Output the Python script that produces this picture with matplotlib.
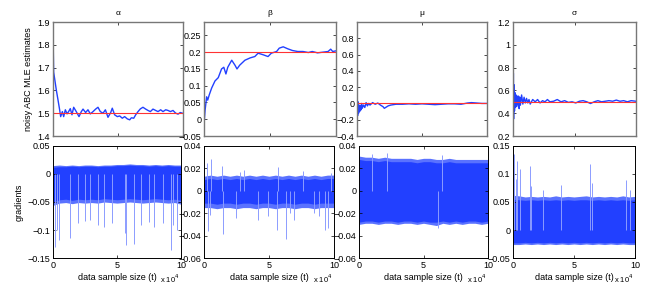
import numpy as np
import matplotlib
matplotlib.use("Agg")
from matplotlib import pyplot as plt

plt.rcParams['font.family'] = ['Liberation Sans', 'DejaVu Sans']
plt.rcParams['font.size'] = 6

# x values are in units of 10^4 samples
alpha_x = [0, 0.05, 0.13, 0.26, 0.38, 0.51, 0.59, 0.72, 0.82, 0.95, 1.08, 1.2, 1.33, 1.46, 1.59, 1.79,
           2.0, 2.18, 2.31, 2.51, 2.69, 2.87, 3.08, 3.28, 3.46, 3.64, 3.85, 4.03, 4.23, 4.44, 4.56,
           4.74, 4.95, 5.13, 5.33, 5.51, 5.72, 5.9, 6.03, 6.21, 6.36, 6.54, 6.72, 6.92, 7.13, 7.31,
           7.49, 7.69, 7.9, 8.08, 8.28, 8.46, 8.67, 8.85, 9.03, 9.23, 9.44, 9.62, 9.79, 10.0]
alpha_y = [1.85, 1.68, 1.65, 1.60, 1.56, 1.515, 1.485, 1.507, 1.485, 1.515, 1.497, 1.507, 1.52, 1.493,
           1.526, 1.507, 1.485, 1.507, 1.518, 1.503, 1.515, 1.497, 1.507, 1.518, 1.526, 1.507, 1.5,
           1.515, 1.482, 1.503, 1.522, 1.493, 1.485, 1.488, 1.478, 1.485, 1.475, 1.471, 1.48, 1.478,
           1.493, 1.507, 1.519, 1.526, 1.518, 1.512, 1.507, 1.518, 1.512, 1.507, 1.515, 1.507, 1.515,
           1.512, 1.507, 1.512, 1.5, 1.496, 1.503, 1.499]

beta_x = [0, 0.08, 0.2, 0.28, 0.4, 0.58, 0.83, 1.08, 1.33, 1.5, 1.66, 1.8, 2.1, 2.35, 2.5, 2.7, 3.1,
          3.5, 3.85, 4.1, 4.5, 4.85, 5.1, 5.5, 5.7, 6.0, 6.35, 6.7, 7.1, 7.5, 7.9, 8.2, 8.6, 9.0,
          9.4, 9.6, 9.75, 10.0]
beta_y = [-0.016, 0.026, 0.067, 0.057, 0.073, 0.093, 0.114, 0.124, 0.15, 0.155, 0.135, 0.155, 0.176,
          0.161, 0.15, 0.161, 0.176, 0.183, 0.187, 0.197, 0.192, 0.187, 0.197, 0.202, 0.212, 0.216,
          0.21, 0.205, 0.202, 0.202, 0.199, 0.202, 0.198, 0.2, 0.202, 0.209, 0.202, 0.204]

mu_x = [0, 0.02, 0.05, 0.08, 0.12, 0.16, 0.2, 0.25, 0.3, 0.35, 0.4, 0.5, 0.6, 0.7, 0.8, 0.9, 1.0,
        1.2, 1.4, 1.6, 1.8, 2.0, 2.1, 2.2, 2.4, 2.6, 2.8, 3.0, 3.5, 4.0, 4.5, 5.0, 5.5, 6.0, 6.5,
        7.0, 7.5, 8.0, 8.5, 8.8, 9.2, 9.6, 10.0]
mu_y = [-0.3, 0.05, -0.15, 0.02, -0.12, -0.02, -0.1, -0.03, -0.08, 0.0, -0.06, -0.02, -0.05, 0.01,
        -0.03, 0.0, -0.02, 0.01, -0.01, 0.005, -0.02, -0.04, -0.06, -0.05, -0.03, -0.02, -0.015,
        -0.01, -0.01, -0.005, -0.01, -0.005, -0.01, -0.015, -0.01, -0.005, -0.005, -0.01, 0.005,
        0.01, 0.005, 0.0, 0.0]

sigma_x = [0, 0.01, 0.03, 0.05, 0.08, 0.12, 0.16, 0.2, 0.25, 0.3, 0.35, 0.4, 0.45, 0.5, 0.55, 0.6,
           0.7, 0.8, 0.9, 1.0, 1.1, 1.2, 1.3, 1.4, 1.6, 1.8, 2.0, 2.2, 2.4, 2.6, 2.8, 3.0, 3.3, 3.6,
           3.9, 4.2, 4.5, 4.8, 5.1, 5.4, 5.7, 6.0, 6.3, 6.6, 6.9, 7.2, 7.5, 7.8, 8.1, 8.4, 8.7, 9.0,
           9.3, 9.6, 10.0]
sigma_y = [1.15, 0.3, 0.75, 0.35, 0.65, 0.42, 0.58, 0.45, 0.56, 0.46, 0.55, 0.48, 0.55, 0.44, 0.54,
           0.47, 0.56, 0.48, 0.54, 0.49, 0.53, 0.49, 0.52, 0.48, 0.52, 0.5, 0.52, 0.49, 0.51, 0.5,
           0.52, 0.5, 0.505, 0.52, 0.5, 0.51, 0.495, 0.5, 0.49, 0.505, 0.51, 0.5, 0.485, 0.5, 0.51,
           0.5, 0.505, 0.51, 0.505, 0.515, 0.505, 0.51, 0.5, 0.51, 0.505]

true_values = [1.5, 0.2, 0.0, 0.5]
names = ['α', 'β', 'μ', 'σ']

# gradient bands: envelope read every 0.5 x 10^4
grad_x = [0, 0.5, 1.0, 1.5, 2.0, 2.5, 3.0, 3.5, 4.0, 4.5, 5.0, 5.5, 6.0, 6.5, 7.0, 7.5, 8.0, 8.5,
          9.0, 9.5, 10.0]
alpha_core_hi = [0.012, 0.013, 0.013, 0.014, 0.013, 0.014, 0.014, 0.013, 0.014, 0.014, 0.015, 0.015,
                 0.016, 0.015, 0.015, 0.014, 0.015, 0.014, 0.015, 0.014, 0.014]
alpha_core_lo = [-0.05, -0.046, -0.045, -0.047, -0.045, -0.046, -0.045, -0.046, -0.044, -0.045,
                 -0.046, -0.045, -0.044, -0.045, -0.046, -0.045, -0.044, -0.045, -0.046, -0.045, -0.047]
alpha_edge_hi = [0.015, 0.016, 0.015, 0.016, 0.015, 0.016, 0.016, 0.015, 0.016, 0.016, 0.017,
                 0.017, 0.018, 0.017, 0.017, 0.016, 0.017, 0.016, 0.017, 0.016, 0.016]
alpha_edge_lo = [-0.056, -0.052, -0.051, -0.053, -0.051, -0.052, -0.051, -0.052, -0.050, -0.051,
                 -0.052, -0.051, -0.050, -0.051, -0.052, -0.051, -0.050, -0.051, -0.052, -0.051, -0.054]
alpha_spike_x = [0.18, 0.28, 0.44, 1.36, 1.96, 2.5, 2.9, 3.5, 3.97, 4.6, 5.6, 5.7, 6.3, 6.9, 7.5,
                 7.9, 8.6, 9.2, 9.4, 9.7]
alpha_spike_y = [-0.13, -0.0996, -0.117, -0.114, -0.0877, -0.0847, -0.0818, -0.0907, -0.0948,
                 -0.0877, -0.1055, -0.126, -0.1245, -0.0907, -0.0865, -0.0948, -0.0877, -0.135,
                 -0.0907, -0.0996]

beta_core_hi = [0.010, 0.011, 0.010, 0.011, 0.010, 0.011, 0.010, 0.011, 0.010, 0.011, 0.010, 0.011,
                0.010, 0.011, 0.010, 0.011, 0.010, 0.011, 0.010, 0.011, 0.011]
beta_core_lo = [-0.011, -0.011, -0.012, -0.011, -0.011, -0.012, -0.011, -0.011, -0.012, -0.011,
                -0.011, -0.012, -0.011, -0.011, -0.012, -0.011, -0.011, -0.012, -0.011, -0.011, -0.011]
beta_edge_hi = [0.013, 0.014, 0.013, 0.014, 0.013, 0.014, 0.013, 0.014, 0.013, 0.014, 0.013,
                0.014, 0.013, 0.014, 0.013, 0.014, 0.013, 0.014, 0.013, 0.014, 0.014]
beta_edge_lo = [-0.015, -0.015, -0.016, -0.015, -0.015, -0.016, -0.015, -0.015, -0.016, -0.015,
                -0.015, -0.016, -0.015, -0.015, -0.016, -0.015, -0.015, -0.016, -0.015, -0.015, -0.015]
beta_spike_x = [0.26, 0.56, 0.33, 1.38, 1.43, 0.46, 2.46, 2.76, 3.07, 4.17, 4.94, 5.65, 5.7, 6.34,
                6.6, 6.9, 7.62, 8.44, 8.82, 9.28, 9.54, 9.8]
beta_spike_y = [0.0252, 0.0281, -0.0363, 0.0222, -0.0383, -0.0214, -0.0244, 0.0169, 0.0186,
                -0.0259, -0.0229, -0.0348, 0.0216, -0.0428, -0.0199, -0.0259, 0.018, -0.0199,
                -0.0229, -0.0348, -0.0333, 0.0157]

mu_core_hi = [0.028, 0.027, 0.027, 0.026, 0.027, 0.026, 0.026, 0.026, 0.026, 0.025, 0.026, 0.026,
              0.025, 0.025, 0.026, 0.025, 0.025, 0.025, 0.025, 0.025, 0.025]
mu_core_lo = [-0.028, -0.027, -0.027, -0.028, -0.027, -0.027, -0.028, -0.027, -0.027, -0.028,
              -0.027, -0.028, -0.028, -0.027, -0.028, -0.027, -0.028, -0.027, -0.027, -0.028, -0.027]
mu_edge_hi = [0.031, 0.030, 0.030, 0.029, 0.030, 0.029, 0.029, 0.029, 0.029, 0.028, 0.029, 0.029,
              0.028, 0.028, 0.029, 0.028, 0.028, 0.028, 0.028, 0.028, 0.028]
mu_edge_lo = [-0.030, -0.029, -0.029, -0.030, -0.029, -0.029, -0.030, -0.029, -0.029, -0.030,
              -0.029, -0.030, -0.031, -0.029, -0.030, -0.029, -0.030, -0.029, -0.029, -0.030, -0.029]
mu_spike_x = [0.02, 0.98, 2.2, 6.4, 6.15]
mu_spike_y = [-0.045, 0.033, 0.034, 0.032, -0.033]

sigma_core_hi = [0.055, 0.054, 0.053, 0.054, 0.053, 0.054, 0.053, 0.054, 0.053, 0.054, 0.053,
                 0.054, 0.054, 0.053, 0.054, 0.053, 0.054, 0.053, 0.054, 0.053, 0.054]
sigma_core_lo = [-0.023, -0.023, -0.022, -0.023, -0.022, -0.023, -0.022, -0.023, -0.022, -0.023,
                 -0.022, -0.023, -0.022, -0.023, -0.022, -0.023, -0.022, -0.023, -0.022, -0.023, -0.023]
sigma_edge_hi = [0.062, 0.061, 0.059, 0.060, 0.059, 0.060, 0.059, 0.061, 0.059, 0.060, 0.059,
                 0.060, 0.061, 0.059, 0.060, 0.059, 0.060, 0.059, 0.061, 0.059, 0.060]
sigma_edge_lo = [-0.026, -0.026, -0.025, -0.026, -0.025, -0.026, -0.025, -0.026, -0.025, -0.026,
                 -0.025, -0.026, -0.025, -0.026, -0.025, -0.026, -0.025, -0.026, -0.025, -0.026, -0.026]
sigma_spike_x = [0.05, 0.22, 0.33, 0.55, 1.37, 1.5, 2.47, 3.92, 6.3, 6.44, 9.26, 9.59]
sigma_spike_y = [0.135, 0.091, 0.123, 0.109, 0.115, 0.078, 0.072, 0.081, 0.117, 0.084, 0.09, 0.072]

top_ylims = [(1.4, 1.9), (-0.05, 0.29), (-0.4, 1.0), (0.2, 1.2)]
top_yticks = [[1.4, 1.5, 1.6, 1.7, 1.8, 1.9],
              [-0.05, 0, 0.05, 0.1, 0.15, 0.2, 0.25],
              [-0.4, -0.2, 0, 0.2, 0.4, 0.6, 0.8],
              [0.2, 0.4, 0.6, 0.8, 1, 1.2]]
bot_ylims = [(-0.15, 0.05), (-0.06, 0.04), (-0.06, 0.04), (-0.05, 0.15)]
bot_yticks = [[-0.15, -0.1, -0.05, 0, 0.05],
              [-0.06, -0.04, -0.02, 0, 0.02, 0.04],
              [-0.06, -0.04, -0.02, 0, 0.02, 0.04],
              [-0.05, 0, 0.05, 0.1, 0.15]]

est_x = [alpha_x, beta_x, mu_x, sigma_x]
est_y = [alpha_y, beta_y, mu_y, sigma_y]
bands = [(alpha_core_lo, alpha_core_hi, alpha_edge_lo, alpha_edge_hi, alpha_spike_x, alpha_spike_y),
         (beta_core_lo, beta_core_hi, beta_edge_lo, beta_edge_hi, beta_spike_x, beta_spike_y),
         (mu_core_lo, mu_core_hi, mu_edge_lo, mu_edge_hi, mu_spike_x, mu_spike_y),
         (sigma_core_lo, sigma_core_hi, sigma_edge_lo, sigma_edge_hi, sigma_spike_x, sigma_spike_y)]

W, H = 653, 291
top_boxes = [(53, 183), (204, 336), (357, 487), (513, 636)]
bot_boxes = [(53, 181), (204, 334), (359, 488), (513, 635)]

BLUE = '#2240ff'
EDGE = '#5a72ff'
LIGHT = '#8c9cff'

fmt = lambda v: ('%g' % v).replace('-', '\u2212')

fig = plt.figure(figsize=(W / 100, H / 100), dpi=100)

for i in range(4):
    # estimates
    l, r = top_boxes[i]
    ax = fig.add_axes([l / W, 1 - 136 / H, (r - l) / W, 114 / H])
    ax.plot(est_x[i], est_y[i], color=BLUE, lw=1.0)
    ax.axhline(true_values[i], color='#ff3333', lw=0.8)
    ax.set_xlim(0, 10)
    ax.set_ylim(*top_ylims[i])
    ax.set_xticks([0, 5, 10])
    ax.set_xticklabels([])
    ax.set_yticks(top_yticks[i])
    ax.set_yticklabels([fmt(v) for v in top_yticks[i]], fontsize=6.5)
    ax.set_title(names[i], fontsize=6, pad=5)
    for s in ax.spines.values():
        s.set_color('#777777')
        s.set_linewidth(1.0)
    ax.tick_params(direction='in', length=2, width=0.5, top=True, right=True, pad=2)
    if i == 0:
        ax.set_ylabel('noisy ABC MLE estimates', labelpad=3, fontsize=6.5)

    # gradients
    core_lo, core_hi, edge_lo, edge_hi, sx, sy = bands[i]
    l, r = bot_boxes[i]
    ax = fig.add_axes([l / W, 1 - 258 / H, (r - l) / W, 112 / H])
    ax.vlines(sx, 0, sy, color=LIGHT, lw=0.7)
    ax.fill_between(grad_x, edge_lo, edge_hi, color=EDGE, lw=0)
    ax.fill_between(grad_x, core_lo, core_hi, color=BLUE, lw=0)
    ax.set_xlim(0, 10)
    ax.set_ylim(*bot_ylims[i])
    ax.set_xticks([0, 5, 10])
    ax.set_xticklabels(['0', '5', '10'], fontsize=6.5)
    ax.set_yticks(bot_yticks[i])
    ax.set_yticklabels([fmt(v) for v in bot_yticks[i]], fontsize=6.5)
    for s in ax.spines.values():
        s.set_color('black')
        s.set_linewidth(0.7)
    ax.tick_params(direction='in', length=2, width=0.5, top=True, right=True, pad=2)
    ax.set_xlabel('data sample size (t)', labelpad=2, fontsize=6.5)
    ax.text(0.99, -0.19, 'x 10$^4$', transform=ax.transAxes, ha='right', va='center', fontsize=5.5)
    if i == 0:
        ax.set_ylabel('gradients', labelpad=3, fontsize=6.5)

fig.savefig('out.png', dpi=100)
